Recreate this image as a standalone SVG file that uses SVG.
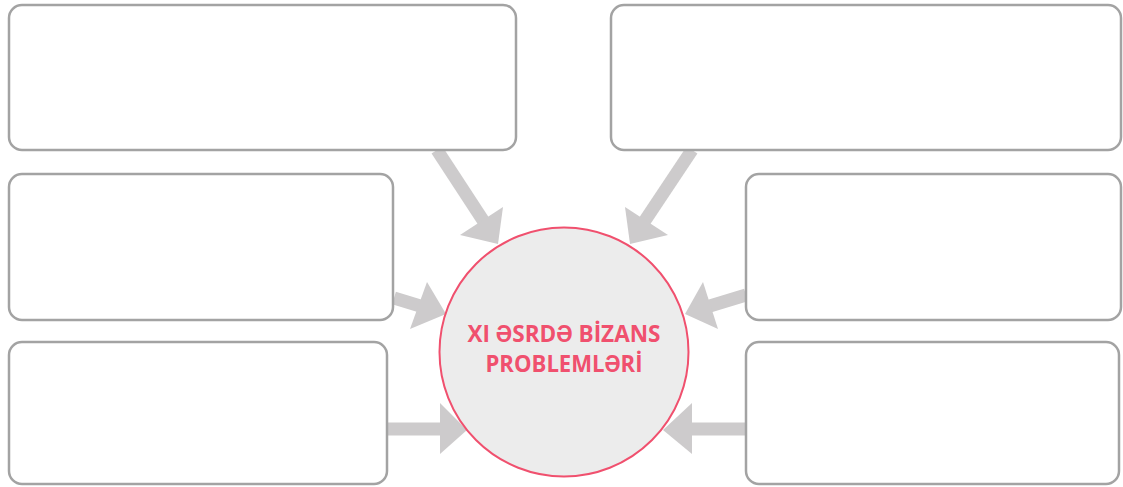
<svg xmlns="http://www.w3.org/2000/svg" width="1123" height="487" viewBox="0 0 1123 487">
<style>
.box{fill:#ffffff;stroke:#a3a3a3;stroke-width:2.5}
.arr{fill:#cdcbcc;stroke:none}
.shaft{stroke:#cdcbcc;stroke-width:13;fill:none}
.title{font-family:"Open Sans","Liberation Sans",sans-serif;font-weight:bold;font-size:24px;fill:#f0506e;text-anchor:middle}
</style>
<rect width="1123" height="487" fill="#ffffff"/>
<g id="connectors">
<line class="shaft" x1="437" y1="150" x2="488" y2="228"/>
<polygon class="arr" points="498,244 460,235 503,207"/>
<line class="shaft" x1="692" y1="150" x2="640" y2="228"/>
<polygon class="arr" points="630,244 625,207 668,235"/>
<line class="shaft" x1="394" y1="298" x2="430" y2="309"/>
<polygon class="arr" points="446,314 427,282 410,329"/>
<line class="shaft" x1="388" y1="429" x2="442" y2="429"/>
<polygon class="arr" points="467,430 440,403 440,454"/>
<line class="shaft" x1="746" y1="295" x2="700" y2="309"/>
<polygon class="arr" points="685,314 703,282 718,329"/>
<line class="shaft" x1="746" y1="429" x2="690" y2="429"/>
<polygon class="arr" points="663,430 692,403 692,454"/>
</g>
<g id="box1"><rect class="box" x="9" y="5" width="507" height="145" rx="13"/></g>
<g id="box2"><rect class="box" x="611" y="5" width="510" height="145" rx="13"/></g>
<g id="box3"><rect class="box" x="9" y="174" width="384" height="146" rx="13"/></g>
<g id="box4"><rect class="box" x="746" y="174" width="375" height="146" rx="13"/></g>
<g id="box5"><rect class="box" x="9" y="342" width="378" height="142" rx="13"/></g>
<g id="box6"><rect class="box" x="746" y="342" width="373" height="142" rx="13"/></g>
<g id="center">
<circle cx="564" cy="352" r="124.5" fill="#ececec" stroke="#f0506e" stroke-width="2"/>
<text class="title" x="564" y="342" textLength="193" lengthAdjust="spacingAndGlyphs">XI ƏSRDƏ BİZANS</text>
<text class="title" x="564" y="372" textLength="157" lengthAdjust="spacingAndGlyphs">PROBLEMLƏRİ</text>
</g>
</svg>
